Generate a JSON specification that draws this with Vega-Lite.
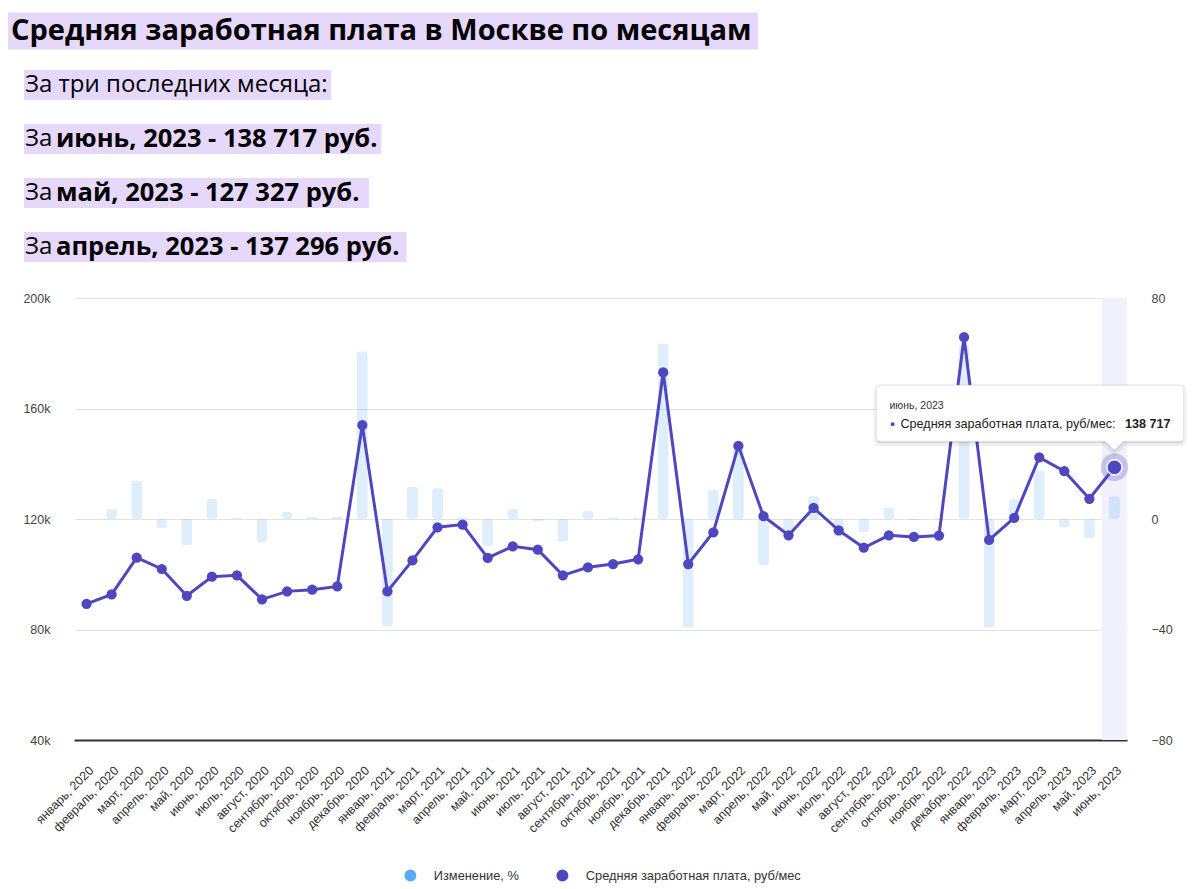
{
  "$schema": "https://vega.github.io/schema/vega-lite/v6.json",
  "padding": {"left": 5, "top": 4, "right": 0, "bottom": 0},
  "spacing": 18,
  "background": "white",
  "config": {
    "view": {"stroke": null},
    "font": "Liberation Sans"
  },
  "resolve": {"scale": {"color": "independent"}, "legend": {"color": "independent"}},
  "vconcat": [
    {
      "width": 1100,
      "height": 270,
      "data": {"values": [
        {"row": 0, "pre": "", "main": "Средняя заработная плата в Москве по месяцам"},
        {"row": 1, "pre": "За три последних месяца:", "main": ""},
        {"row": 2, "pre": "За", "main": "июнь, 2023 - 138 717 руб."},
        {"row": 3, "pre": "За", "main": "май, 2023 - 127 327 руб."},
        {"row": 4, "pre": "За", "main": "апрель, 2023 - 137 296 руб."}
      ]},
      "transform": [
        {"calculate": "datum.row == 0 ? 0.17 : 1.525", "as": "bx0"},
        {"calculate": "datum.row == 0 ? 0.17 + length(datum.main) * 1.4445 : 1.525 + (length(datum.pre + (datum.main ? ' ' + datum.main : '')) * 12.55 + 6) / 11.8", "as": "bx1"},
        {"calculate": "0", "as": "tx"}
      ],
      "encoding": {
        "y": {"field": "row", "type": "ordinal", "axis": null, "scale": {"paddingInner": 0.444, "paddingOuter": 0.222}}
      },
      "layer": [
        {
          "transform": [{"filter": "datum.row == 0"}],
          "mark": {"type": "bar", "color": "#e5d8fa", "height": 37},
          "encoding": {
            "x": {"field": "bx0", "type": "quantitative", "scale": {"domain": [5.763, 98.983]}, "axis": null},
            "x2": {"field": "bx1"}
          }
        },
        {
          "transform": [{"filter": "datum.row >= 1"}],
          "mark": {"type": "bar", "color": "#e5d8fa"},
          "encoding": {
            "x": {"field": "bx0", "type": "quantitative", "scale": {"domain": [5.763, 98.983]}, "axis": null},
            "x2": {"field": "bx1"}
          }
        },
        {
          "transform": [{"filter": "datum.row == 0"}],
          "mark": {"type": "text", "font": "Open Sans", "fontSize": 29, "fontWeight": "bold", "align": "left", "baseline": "middle", "dx": 5, "color": "#000"},
          "encoding": {
            "x": {"field": "tx", "type": "quantitative", "scale": {"domain": [5.763, 98.983]}, "axis": null},
            "text": {"field": "main"}
          }
        },
        {
          "transform": [{"filter": "datum.row >= 1"}],
          "mark": {"type": "text", "font": "Open Sans", "fontSize": 24, "align": "left", "baseline": "middle", "dx": 19, "color": "#000"},
          "encoding": {
            "x": {"field": "tx", "type": "quantitative", "scale": {"domain": [5.763, 98.983]}, "axis": null},
            "text": {"field": "pre"}
          }
        },
        {
          "transform": [{"filter": "datum.row >= 2"}],
          "mark": {"type": "text", "font": "Open Sans", "fontSize": 25.5, "fontWeight": "bold", "align": "left", "baseline": "middle", "dx": 50, "color": "#000"},
          "encoding": {
            "x": {"field": "tx", "type": "quantitative", "scale": {"domain": [5.763, 98.983]}, "axis": null},
            "text": {"field": "main"}
          }
        }
      ]
    },
    {
      "width": 1053,
      "height": 442,
      "data": {"values": [
        {"month": "январь, 2020", "salary": 89300, "change": null},
        {"month": "февраль, 2020", "salary": 92700, "change": 3.7},
        {"month": "март, 2020", "salary": 106000, "change": 13.8},
        {"month": "апрель, 2020", "salary": 101900, "change": -3.3},
        {"month": "май, 2020", "salary": 92200, "change": -9.4},
        {"month": "июнь, 2020", "salary": 99100, "change": 7.2},
        {"month": "июль, 2020", "salary": 99600, "change": 0.5},
        {"month": "август, 2020", "salary": 90900, "change": -8.3},
        {"month": "сентябрь, 2020", "salary": 93800, "change": 2.6},
        {"month": "октябрь, 2020", "salary": 94400, "change": 0.7},
        {"month": "ноябрь, 2020", "salary": 95600, "change": 0.8},
        {"month": "декабрь, 2020", "salary": 154000, "change": 60.7},
        {"month": "январь, 2021", "salary": 93800, "change": -38.9},
        {"month": "февраль, 2021", "salary": 105000, "change": 11.7},
        {"month": "март, 2021", "salary": 117000, "change": 11.2},
        {"month": "апрель, 2021", "salary": 118000, "change": 0.6},
        {"month": "май, 2021", "salary": 105900, "change": -9.9},
        {"month": "июнь, 2021", "salary": 110100, "change": 3.6},
        {"month": "июль, 2021", "salary": 108900, "change": -0.8},
        {"month": "август, 2021", "salary": 99600, "change": -8.2},
        {"month": "сентябрь, 2021", "salary": 102500, "change": 3.1},
        {"month": "октябрь, 2021", "salary": 103700, "change": 0.6},
        {"month": "ноябрь, 2021", "salary": 105400, "change": 0.6},
        {"month": "декабрь, 2021", "salary": 173100, "change": 63.6},
        {"month": "январь, 2022", "salary": 103700, "change": -39.4},
        {"month": "февраль, 2022", "salary": 115200, "change": 10.6},
        {"month": "март, 2022", "salary": 146500, "change": 27.1},
        {"month": "апрель, 2022", "salary": 121000, "change": -16.8},
        {"month": "май, 2022", "salary": 114100, "change": -6.0},
        {"month": "июнь, 2022", "salary": 124000, "change": 8.3},
        {"month": "июль, 2022", "salary": 115900, "change": -6.4},
        {"month": "август, 2022", "salary": 109600, "change": -4.8},
        {"month": "сентябрь, 2022", "salary": 114100, "change": 4.2},
        {"month": "октябрь, 2022", "salary": 113500, "change": -0.4},
        {"month": "ноябрь, 2022", "salary": 114000, "change": 0.4},
        {"month": "декабрь, 2022", "salary": 185800, "change": 62.8},
        {"month": "январь, 2023", "salary": 112400, "change": -39.3},
        {"month": "февраль, 2023", "salary": 120400, "change": 7.2},
        {"month": "март, 2023", "salary": 142300, "change": 17.6},
        {"month": "апрель, 2023", "salary": 137296, "change": -3.1},
        {"month": "май, 2023", "salary": 127327, "change": -7.1},
        {"month": "июнь, 2023", "salary": 138717, "change": 8.2}
      ]},
      "encoding": {
        "x": {
          "field": "month", "type": "nominal", "sort": null,
          "scale": {"paddingInner": 0, "paddingOuter": 0, "domain": ["январь, 2020", "февраль, 2020", "март, 2020", "апрель, 2020", "май, 2020", "июнь, 2020", "июль, 2020", "август, 2020", "сентябрь, 2020", "октябрь, 2020", "ноябрь, 2020", "декабрь, 2020", "январь, 2021", "февраль, 2021", "март, 2021", "апрель, 2021", "май, 2021", "июнь, 2021", "июль, 2021", "август, 2021", "сентябрь, 2021", "октябрь, 2021", "ноябрь, 2021", "декабрь, 2021", "январь, 2022", "февраль, 2022", "март, 2022", "апрель, 2022", "май, 2022", "июнь, 2022", "июль, 2022", "август, 2022", "сентябрь, 2022", "октябрь, 2022", "ноябрь, 2022", "декабрь, 2022", "январь, 2023", "февраль, 2023", "март, 2023", "апрель, 2023", "май, 2023", "июнь, 2023"]},
          "axis": {"title": null, "labelAngle": -45, "labelAlign": "right", "labelBaseline": "middle", "labelPadding": 28, "labelOffset": 5, "ticks": false, "domain": true, "domainColor": "#333", "domainWidth": 2, "labelFontSize": 12.5, "labelColor": "#333", "grid": false, "labelOverlap": false}
        }
      },
      "layer": [
        {
          "encoding": {
            "y": {"field": "change", "type": "quantitative", "scale": {"domain": [-80, 80], "nice": false},
              "axis": {"orient": "right", "values": [-80, -40, 0, 40, 80], "grid": false, "domain": false, "ticks": false, "labelPadding": 24, "title": null, "labelFontSize": 12.5, "labelColor": "#444"}}
          },
          "layer": [
            {
              "transform": [{"filter": "datum.month === 'июнь, 2023'"}],
              "mark": {"type": "bar", "color": "#f1f0fd"},
              "encoding": {"y": {"datum": 80, "type": "quantitative"}, "y2": {"datum": -80}}
            },
            {
              "transform": [{"filter": "isValid(datum.change)"}],
              "mark": {"type": "bar", "width": 11, "cornerRadius": 3},
              "encoding": {
                "color": {"datum": "Изменение, %"},
                "fillOpacity": {"value": 0.2}
              }
            }
          ]
        },
        {
          "encoding": {
            "y": {"field": "salary", "type": "quantitative", "scale": {"domain": [40000, 200000], "nice": false, "zero": false},
              "axis": {"orient": "left", "values": [40000, 80000, 120000, 160000, 200000], "format": "~s", "grid": true, "gridColor": "#e3e3e3", "domain": false, "ticks": false, "labelPadding": 24, "minExtent": 69, "maxExtent": 69, "title": null, "labelFontSize": 12.5, "labelColor": "#444"}}
          },
          "layer": [
            {
              "mark": {"type": "line", "strokeWidth": 3, "point": {"filled": true, "size": 105, "opacity": 1}},
              "encoding": {
                "color": {
                  "datum": "Средняя заработная плата, руб/мес",
                  "scale": {"domain": ["Изменение, %", "Средняя заработная плата, руб/мес"], "range": ["#5aabf6", "#4f47bf"]},
                  "legend": {
                    "title": null, "orient": "none", "legendX": 330, "legendY": 571, "direction": "horizontal",
                    "labelFontSize": 12.8, "labelColor": "#333", "labelFont": "Liberation Sans", "labelLimit": 400,
                    "symbolType": "circle", "symbolSize": 110, "labelOffset": 17, "columnPadding": 35
                  }
                }
              }
            },
            {
              "transform": [
                {"filter": "datum.month === 'июнь, 2023'"},
                {"calculate": "replace(format(datum.salary, ','), ',', ' ')", "as": "salary_txt"}
              ],
              "layer": [
                {"mark": {"type": "point", "filled": true, "size": 750, "color": "#4f47bf", "opacity": 0.28}, "encoding": {}},
                {"mark": {"type": "point", "filled": true, "size": 230, "color": "#4f47bf", "opacity": 1, "stroke": "white", "strokeWidth": 1.5}, "encoding": {}},
                {"mark": {"type": "point", "filled": true, "size": 4, "shape": "M-234,-80H65Q69,-80,69,-76V-28Q69,-24,65,-24H9L0,-15L-9,-24H-234Q-238,-24,-238,-28V-76Q-238,-80,-234,-80Z", "fill": "#000", "fillOpacity": 0.1, "stroke": "#000", "strokeOpacity": 0.06, "strokeWidth": 6}, "encoding": {}},
                {"mark": {"type": "point", "filled": true, "size": 4, "shape": "M-234,-82H65Q69,-82,69,-78V-30Q69,-26,65,-26H9L0,-17L-9,-26H-234Q-238,-26,-238,-30V-78Q-238,-82,-234,-82Z", "fill": "#fff", "opacity": 1, "stroke": "#dddddd", "strokeWidth": 0.6}, "encoding": {}},
                {"mark": {"type": "text", "fontSize": 10.5, "color": "#333", "align": "left", "baseline": "middle", "dx": -225, "dy": -61}, "encoding": {"text": {"field": "month"}}},
                {"mark": {"type": "text", "fontSize": 9, "color": "#4f47bf", "align": "center", "baseline": "middle", "dx": -222, "dy": -43}, "encoding": {"text": {"value": "●"}}},
                {"mark": {"type": "text", "fontSize": 12.6, "color": "#222", "align": "left", "baseline": "middle", "dx": -214, "dy": -43}, "encoding": {"text": {"value": "Средняя заработная плата, руб/мес:"}}},
                {"mark": {"type": "text", "fontSize": 12.6, "fontWeight": "bold", "color": "#222", "align": "right", "baseline": "middle", "dx": 56, "dy": -43}, "encoding": {"text": {"field": "salary_txt"}}}
              ]
            }
          ]
        }
      ],
      "resolve": {"scale": {"y": "independent"}, "axis": {"y": "independent"}}
    }
  ]
}
